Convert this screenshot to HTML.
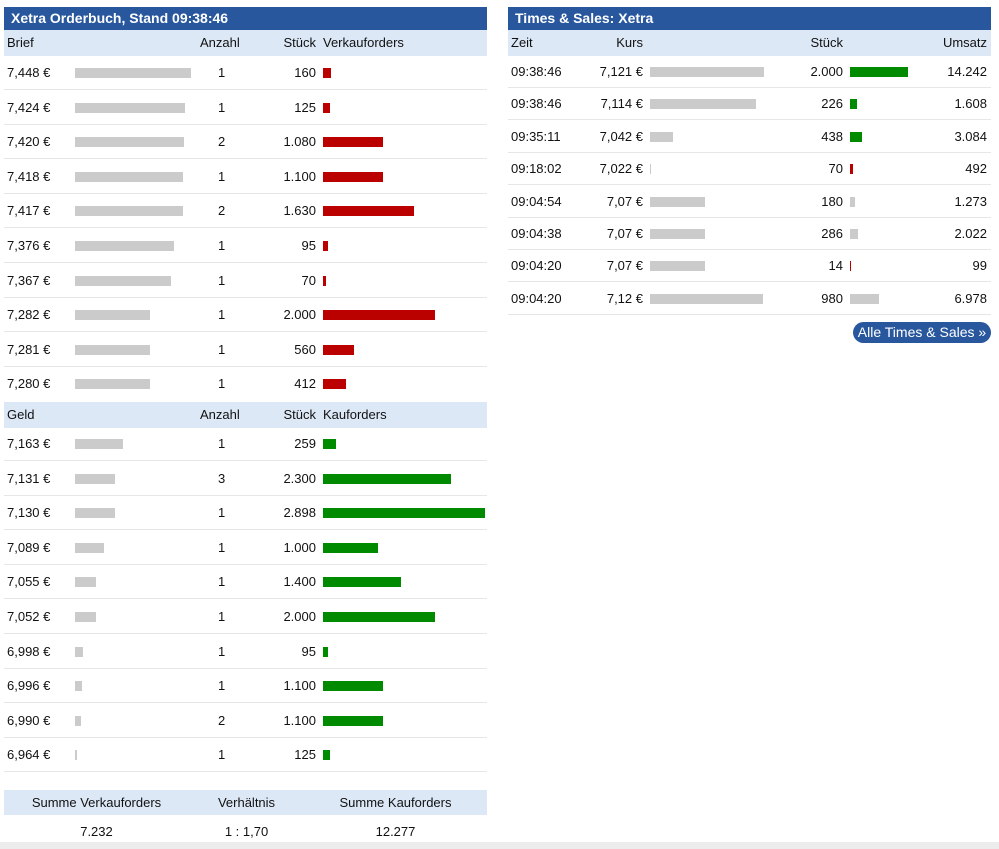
<!DOCTYPE html>
<html><head><meta charset="utf-8"><style>
*{margin:0;padding:0;box-sizing:border-box}
body{width:999px;height:849px;background:#fff;font-family:"Liberation Sans",Arial,sans-serif;font-size:13px;color:#111;position:relative;overflow:hidden}
.abs{position:absolute}
.hd{position:absolute;top:7px;height:23px;background:#28579e;color:#fff;font-weight:bold;font-size:14px;line-height:23px;padding-left:7px}
.sh{position:absolute;height:26px;background:#dde8f7;line-height:26px}
.r{position:absolute;height:34px;line-height:34px;border-bottom:1px solid #e6e6e6}
.r2{position:absolute;height:32px;line-height:32px;border-bottom:1px solid #e6e6e6}
.r>span,.r2>span,.sh>span{position:absolute;white-space:nowrap}
.bar{position:absolute;height:10px}
.gr{background:#cbcbcb}.rd{background:#bb0000}.gn{background:#008a00}
</style></head><body>
<div class="hd" style="left:4px;width:483px">Xetra Orderbuch, Stand 09:38:46</div>
<div class="sh" style="left:4px;width:483px;top:30px"><span style="left:3px">Brief</span><span style="left:196px">Anzahl</span><span style="right:171px">Stück</span><span style="left:319px">Verkauforders</span></div>

<div id="L"></div>
<div class="sh" style="left:4px;width:483px;top:402px"><span style="left:3px">Geld</span><span style="left:196px">Anzahl</span><span style="right:171px">Stück</span><span style="left:319px">Kauforders</span></div>

<div class="r" style="left:4px;width:483px;top:56px"><span style="left:3px">7,448 €</span><div class="bar gr" style="left:71px;top:12px;width:116px"></div><span style="left:214px">1</span><span style="right:171px">160</span><div class="bar rd" style="left:319px;top:12px;width:8px"></div></div>
<div class="r" style="left:4px;width:483px;top:90.6px"><span style="left:3px">7,424 €</span><div class="bar gr" style="left:71px;top:12px;width:110px"></div><span style="left:214px">1</span><span style="right:171px">125</span><div class="bar rd" style="left:319px;top:12px;width:7px"></div></div>
<div class="r" style="left:4px;width:483px;top:125.2px"><span style="left:3px">7,420 €</span><div class="bar gr" style="left:71px;top:12px;width:109px"></div><span style="left:214px">2</span><span style="right:171px">1.080</span><div class="bar rd" style="left:319px;top:12px;width:60px"></div></div>
<div class="r" style="left:4px;width:483px;top:159.8px"><span style="left:3px">7,418 €</span><div class="bar gr" style="left:71px;top:12px;width:108px"></div><span style="left:214px">1</span><span style="right:171px">1.100</span><div class="bar rd" style="left:319px;top:12px;width:60px"></div></div>
<div class="r" style="left:4px;width:483px;top:194.4px"><span style="left:3px">7,417 €</span><div class="bar gr" style="left:71px;top:12px;width:108px"></div><span style="left:214px">2</span><span style="right:171px">1.630</span><div class="bar rd" style="left:319px;top:12px;width:91px"></div></div>
<div class="r" style="left:4px;width:483px;top:229px"><span style="left:3px">7,376 €</span><div class="bar gr" style="left:71px;top:12px;width:99px"></div><span style="left:214px">1</span><span style="right:171px">95</span><div class="bar rd" style="left:319px;top:12px;width:5px"></div></div>
<div class="r" style="left:4px;width:483px;top:263.6px"><span style="left:3px">7,367 €</span><div class="bar gr" style="left:71px;top:12px;width:96px"></div><span style="left:214px">1</span><span style="right:171px">70</span><div class="bar rd" style="left:319px;top:12px;width:3px"></div></div>
<div class="r" style="left:4px;width:483px;top:298.2px"><span style="left:3px">7,282 €</span><div class="bar gr" style="left:71px;top:12px;width:75px"></div><span style="left:214px">1</span><span style="right:171px">2.000</span><div class="bar rd" style="left:319px;top:12px;width:112px"></div></div>
<div class="r" style="left:4px;width:483px;top:332.8px"><span style="left:3px">7,281 €</span><div class="bar gr" style="left:71px;top:12px;width:75px"></div><span style="left:214px">1</span><span style="right:171px">560</span><div class="bar rd" style="left:319px;top:12px;width:31px"></div></div>
<div class="r" style="left:4px;width:483px;top:367.4px;border-bottom:none"><span style="left:3px">7,280 €</span><div class="bar gr" style="left:71px;top:12px;width:75px"></div><span style="left:214px">1</span><span style="right:171px">412</span><div class="bar rd" style="left:319px;top:12px;width:23px"></div></div>

<div class="r" style="left:4px;width:483px;top:427px"><span style="left:3px">7,163 €</span><div class="bar gr" style="left:71px;top:12px;width:48px"></div><span style="left:214px">1</span><span style="right:171px">259</span><div class="bar gn" style="left:319px;top:12px;width:13px"></div></div>
<div class="r" style="left:4px;width:483px;top:461.6px"><span style="left:3px">7,131 €</span><div class="bar gr" style="left:71px;top:12px;width:40px"></div><span style="left:214px">3</span><span style="right:171px">2.300</span><div class="bar gn" style="left:319px;top:12px;width:128px"></div></div>
<div class="r" style="left:4px;width:483px;top:496.2px"><span style="left:3px">7,130 €</span><div class="bar gr" style="left:71px;top:12px;width:40px"></div><span style="left:214px">1</span><span style="right:171px">2.898</span><div class="bar gn" style="left:319px;top:12px;width:162px"></div></div>
<div class="r" style="left:4px;width:483px;top:530.8px"><span style="left:3px">7,089 €</span><div class="bar gr" style="left:71px;top:12px;width:29px"></div><span style="left:214px">1</span><span style="right:171px">1.000</span><div class="bar gn" style="left:319px;top:12px;width:55px"></div></div>
<div class="r" style="left:4px;width:483px;top:565.4px"><span style="left:3px">7,055 €</span><div class="bar gr" style="left:71px;top:12px;width:21px"></div><span style="left:214px">1</span><span style="right:171px">1.400</span><div class="bar gn" style="left:319px;top:12px;width:78px"></div></div>
<div class="r" style="left:4px;width:483px;top:600px"><span style="left:3px">7,052 €</span><div class="bar gr" style="left:71px;top:12px;width:21px"></div><span style="left:214px">1</span><span style="right:171px">2.000</span><div class="bar gn" style="left:319px;top:12px;width:112px"></div></div>
<div class="r" style="left:4px;width:483px;top:634.6px"><span style="left:3px">6,998 €</span><div class="bar gr" style="left:71px;top:12px;width:8px"></div><span style="left:214px">1</span><span style="right:171px">95</span><div class="bar gn" style="left:319px;top:12px;width:5px"></div></div>
<div class="r" style="left:4px;width:483px;top:669.2px"><span style="left:3px">6,996 €</span><div class="bar gr" style="left:71px;top:12px;width:7px"></div><span style="left:214px">1</span><span style="right:171px">1.100</span><div class="bar gn" style="left:319px;top:12px;width:60px"></div></div>
<div class="r" style="left:4px;width:483px;top:703.8px"><span style="left:3px">6,990 €</span><div class="bar gr" style="left:71px;top:12px;width:6px"></div><span style="left:214px">2</span><span style="right:171px">1.100</span><div class="bar gn" style="left:319px;top:12px;width:60px"></div></div>
<div class="r" style="left:4px;width:483px;top:738.4px"><span style="left:3px">6,964 €</span><div class="bar gr" style="left:71px;top:12px;width:2px"></div><span style="left:214px">1</span><span style="right:171px">125</span><div class="bar gn" style="left:319px;top:12px;width:7px"></div></div>

<div class="sh" style="left:4px;width:483px;top:790px;height:25px;line-height:25px"><span style="left:0;width:185px;text-align:center">Summe Verkauforders</span><span style="left:185px;width:115px;text-align:center">Verhältnis</span><span style="left:300px;width:183px;text-align:center">Summe Kauforders</span></div>
<div class="abs" style="left:4px;width:483px;top:822px;height:20px;line-height:20px"><span class="abs" style="left:0;width:185px;text-align:center">7.232</span><span class="abs" style="left:185px;width:115px;text-align:center">1 : 1,70</span><span class="abs" style="left:300px;width:183px;text-align:center">12.277</span></div>
<div class="abs" style="left:0;top:842px;width:999px;height:7px;background:#ececec"></div>

<div class="hd" style="left:508px;width:483px">Times &amp; Sales: Xetra</div>
<div class="sh" style="left:508px;width:483px;top:30px"><span style="left:3px">Zeit</span><span style="right:348px">Kurs</span><span style="right:148px">Stück</span><span style="right:4px">Umsatz</span></div>

<div class="r2" style="left:508px;width:483px;top:56px"><span style="left:3px">09:38:46</span><span style="right:348px">7,121 €</span><div class="bar gr" style="left:142px;top:11px;width:114px"></div><span style="right:148px">2.000</span><div class="bar gn" style="left:342px;top:11px;width:58px"></div><span style="right:4px">14.242</span></div>
<div class="r2" style="left:508px;width:483px;top:88.4px"><span style="left:3px">09:38:46</span><span style="right:348px">7,114 €</span><div class="bar gr" style="left:142px;top:11px;width:106px"></div><span style="right:148px">226</span><div class="bar gn" style="left:342px;top:11px;width:7px"></div><span style="right:4px">1.608</span></div>
<div class="r2" style="left:508px;width:483px;top:120.8px"><span style="left:3px">09:35:11</span><span style="right:348px">7,042 €</span><div class="bar gr" style="left:142px;top:11px;width:23px"></div><span style="right:148px">438</span><div class="bar gn" style="left:342px;top:11px;width:12px"></div><span style="right:4px">3.084</span></div>
<div class="r2" style="left:508px;width:483px;top:153.2px"><span style="left:3px">09:18:02</span><span style="right:348px">7,022 €</span><div class="bar gr" style="left:142px;top:11px;width:1px"></div><span style="right:148px">70</span><div class="bar rd" style="left:342px;top:11px;width:3px"></div><span style="right:4px">492</span></div>
<div class="r2" style="left:508px;width:483px;top:185.6px"><span style="left:3px">09:04:54</span><span style="right:348px">7,07 €</span><div class="bar gr" style="left:142px;top:11px;width:55px"></div><span style="right:148px">180</span><div class="bar gr" style="left:342px;top:11px;width:5px"></div><span style="right:4px">1.273</span></div>
<div class="r2" style="left:508px;width:483px;top:218px"><span style="left:3px">09:04:38</span><span style="right:348px">7,07 €</span><div class="bar gr" style="left:142px;top:11px;width:55px"></div><span style="right:148px">286</span><div class="bar gr" style="left:342px;top:11px;width:8px"></div><span style="right:4px">2.022</span></div>
<div class="r2" style="left:508px;width:483px;top:250.4px"><span style="left:3px">09:04:20</span><span style="right:348px">7,07 €</span><div class="bar gr" style="left:142px;top:11px;width:55px"></div><span style="right:148px">14</span><div class="bar rd" style="left:342px;top:11px;width:1px"></div><span style="right:4px">99</span></div>
<div class="r2" style="left:508px;width:483px;top:282.8px"><span style="left:3px">09:04:20</span><span style="right:348px">7,12 €</span><div class="bar gr" style="left:142px;top:11px;width:113px"></div><span style="right:148px">980</span><div class="bar gr" style="left:342px;top:11px;width:29px"></div><span style="right:4px">6.978</span></div>

<div class="abs" style="left:853px;top:322px;width:138px;height:21px;border-radius:11px;background:#28579e;color:#fff;font-size:14px;line-height:21px;text-align:center">Alle Times &amp; Sales »</div>
</body></html>
